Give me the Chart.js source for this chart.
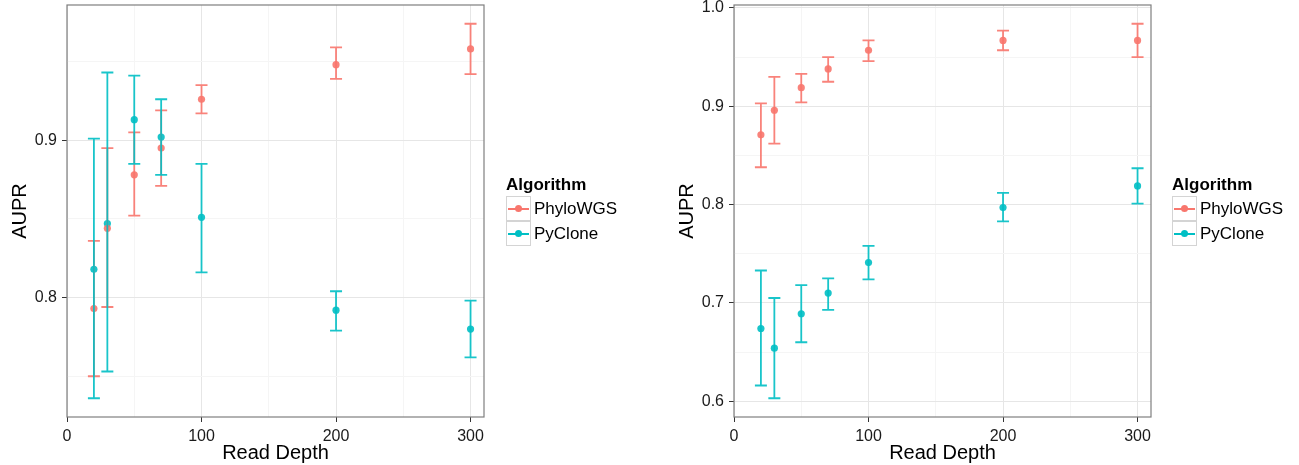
<!DOCTYPE html>
<html lang="en">
<head>
<meta charset="UTF-8">
<title>AUPR by Read Depth</title>
<style>
    body {
        margin: 0;
        background: #fff;
        font-family: "Liberation Sans", Arial, sans-serif;
    }
    canvas {
        position: absolute;
        top: 0;
    }
    .legend {
        position: absolute;
        top: 174px;
        color: #000;
    }
    .legend .title {
        font-weight: bold;
        font-size: 17px;
        line-height: 22px;
        height: 22px;
    }
    .legend .row {
        height: 25px;
        display: flex;
        align-items: center;
        font-size: 17px;
    }
    .legend .key {
        position: relative;
        width: 25px;
        height: 25px;
        box-sizing: border-box;
        border: 1px solid #d4d4d4;
        margin-right: 3px;
    }
    .legend .key::before {
        content: "";
        position: absolute;
        left: 1px;
        right: 1px;
        top: 11px;
        height: 1.8px;
        background: var(--c);
    }
    .legend .key::after {
        content: "";
        position: absolute;
        left: 8px;
        top: 8px;
        width: 7px;
        height: 7px;
        border-radius: 50%;
        background: var(--c);
    }
</style>
</head>
<body>
    <canvas id="leftChart" width="650" height="465" style="left:0"></canvas>
    <canvas id="rightChart" width="632" height="465" style="left:667px"></canvas>

    <div class="legend" style="left:506px">
        <div class="title">Algorithm</div>
        <div class="row"><span class="key" style="--c:#F8766D"></span>PhyloWGS</div>
        <div class="row"><span class="key" style="--c:#00BFC4"></span>PyClone</div>
    </div>
    <div class="legend" style="left:1172px">
        <div class="title">Algorithm</div>
        <div class="row"><span class="key" style="--c:#F8766D"></span>PhyloWGS</div>
        <div class="row"><span class="key" style="--c:#00BFC4"></span>PyClone</div>
    </div>

    <script src="https://cdn.jsdelivr.net/npm/chart.js"></script>
    <script>
        const depths = [20, 30, 50, 70, 100, 200, 300];
        const xTicks = [0, 50, 100, 150, 200, 250, 300];

        // left panel
        const leftPhylo = [0.793, 0.844, 0.878, 0.895, 0.926, 0.948, 0.958];
        const leftPhyloLo = [0.750, 0.794, 0.852, 0.871, 0.917, 0.939, 0.942];
        const leftPhyloHi = [0.836, 0.895, 0.905, 0.919, 0.935, 0.959, 0.974];
        const leftPyclone = [0.818, 0.847, 0.913, 0.902, 0.851, 0.792, 0.780];
        const leftPycloneLo = [0.736, 0.753, 0.885, 0.878, 0.816, 0.779, 0.762];
        const leftPycloneHi = [0.901, 0.943, 0.941, 0.926, 0.885, 0.804, 0.798];
        const leftYTicks = [0.75, 0.8, 0.85, 0.9, 0.95];

        // right panel
        const rightPhylo = [0.871, 0.896, 0.919, 0.938, 0.957, 0.967, 0.967];
        const rightPhyloLo = [0.838, 0.862, 0.904, 0.925, 0.946, 0.957, 0.950];
        const rightPhyloHi = [0.903, 0.930, 0.933, 0.950, 0.967, 0.977, 0.984];
        const rightPyclone = [0.674, 0.654, 0.689, 0.710, 0.741, 0.797, 0.819];
        const rightPycloneLo = [0.616, 0.603, 0.660, 0.693, 0.724, 0.783, 0.801];
        const rightPycloneHi = [0.733, 0.705, 0.718, 0.725, 0.758, 0.812, 0.837];
        const rightYTicks = [0.6, 0.65, 0.7, 0.75, 0.8, 0.85, 0.9, 0.95, 1.0];

        const RED = 'rgba(248, 118, 109, 0.9)';
        const CYAN = 'rgba(0, 191, 196, 0.9)';

        function isMajor(v, step) {
            const r = v / step;
            return Math.abs(r - Math.round(r)) < 1e-6;
        }

        function points(vals, lo, hi) {
            return depths.map((d, i) => ({ x: d, y: vals[i], lo: lo[i], hi: hi[i] }));
        }

        // ggplot-style 5% expansion of the error bar range
        function yRange(los, his) {
            const lo = Math.min(...los.flat());
            const hi = Math.max(...his.flat());
            const pad = (hi - lo) * 0.05;
            return [lo - pad, hi + pad];
        }

        const errorBars = {
            id: 'errorBars',
            afterDatasetsDraw(chart) {
                const { ctx, scales: { x, y }, chartArea } = chart;
                chart.data.datasets.forEach(ds => {
                    ctx.save();
                    ctx.strokeStyle = ds.backgroundColor;
                    ctx.lineWidth = 1.8;
                    ds.data.forEach(p => {
                        const px = x.getPixelForValue(p.x);
                        const top = y.getPixelForValue(p.hi);
                        const bot = y.getPixelForValue(p.lo);
                        ctx.beginPath();
                        ctx.moveTo(px, top); ctx.lineTo(px, bot);
                        ctx.moveTo(px - 6, top); ctx.lineTo(px + 6, top);
                        ctx.moveTo(px - 6, bot); ctx.lineTo(px + 6, bot);
                        ctx.stroke();
                    });
                    ctx.restore();
                });
                // panel border
                ctx.save();
                ctx.strokeStyle = '#7f7f7f';
                ctx.lineWidth = 1.2;
                ctx.strokeRect(chartArea.left, chartArea.top,
                    chartArea.right - chartArea.left, chartArea.bottom - chartArea.top);
                ctx.restore();
            }
        };

        function makeChart(id, rightPad, yTicks, phylo, phyloLo, phyloHi, pyc, pycLo, pycHi) {
            const [yMin, yMax] = yRange([phyloLo, pycLo], [phyloHi, pycHi]);
            const gridColor = ctx => isMajor(ctx.tick.value, ctx.scale.axis === 'x' ? 100 : 0.1) ? '#e6e6e6' : '#f5f5f5';
            const tickColor = ctx => isMajor(ctx.tick.value, ctx.scale.axis === 'x' ? 100 : 0.1) ? '#333' : 'rgba(0,0,0,0)';

            return new Chart(document.getElementById(id), {
                type: 'scatter',
                data: {
                    datasets: [{
                        label: 'PhyloWGS',
                        data: points(phylo, phyloLo, phyloHi),
                        backgroundColor: RED,
                        borderWidth: 0,
                        pointRadius: 3.6
                    }, {
                        label: 'PyClone',
                        data: points(pyc, pycLo, pycHi),
                        backgroundColor: CYAN,
                        borderWidth: 0,
                        pointRadius: 3.6
                    }]
                },
                options: {
                    responsive: false,
                    animation: false,
                    layout: { padding: { top: 5, right: rightPad, left: 0, bottom: 0 } },
                    plugins: { legend: { display: false }, tooltip: { enabled: false } },
                    scales: {
                        x: {
                            type: 'linear',
                            min: 0,
                            max: 310,
                            afterBuildTicks: s => { s.ticks = xTicks.map(v => ({ value: v })); },
                            afterFit: s => { s.height = 48; s.paddingLeft = 0; s.paddingRight = 0; },
                            grid: { color: gridColor, tickColor: tickColor, tickLength: 5, lineWidth: 1 },
                            border: { display: false },
                            ticks: {
                                padding: 5,
                                color: '#1a1a1a',
                                font: { family: 'Liberation Sans', size: 16 },
                                maxRotation: 0,
                                autoSkip: false,
                                callback: v => isMajor(v, 100) ? String(v) : ''
                            },
                            title: {
                                display: true,
                                text: 'Read Depth',
                                color: '#000',
                                font: { family: 'Liberation Sans', size: 20 },
                                padding: { top: 0, bottom: 0 }
                            }
                        },
                        y: {
                            min: yMin,
                            max: yMax,
                            afterBuildTicks: s => { s.ticks = yTicks.map(v => ({ value: v })); },
                            afterFit: s => { s.width = 67; s.paddingTop = 0; s.paddingBottom = 0; },
                            grid: { color: gridColor, tickColor: tickColor, tickLength: 5, lineWidth: 1 },
                            border: { display: false },
                            ticks: {
                                padding: 5,
                                color: '#1a1a1a',
                                font: { family: 'Liberation Sans', size: 16 },
                                autoSkip: false,
                                callback: v => isMajor(v, 0.1) ? v.toFixed(1) : ''
                            },
                            title: {
                                display: true,
                                text: 'AUPR',
                                color: '#000',
                                font: { family: 'Liberation Sans', size: 20 },
                                padding: { top: 8, bottom: 0 }
                            }
                        }
                    }
                },
                plugins: [errorBars]
            });
        }

        makeChart('leftChart', 166, leftYTicks,
            leftPhylo, leftPhyloLo, leftPhyloHi, leftPyclone, leftPycloneLo, leftPycloneHi);
        makeChart('rightChart', 148, rightYTicks,
            rightPhylo, rightPhyloLo, rightPhyloHi, rightPyclone, rightPycloneLo, rightPycloneHi);
    </script>
</body>
</html>
